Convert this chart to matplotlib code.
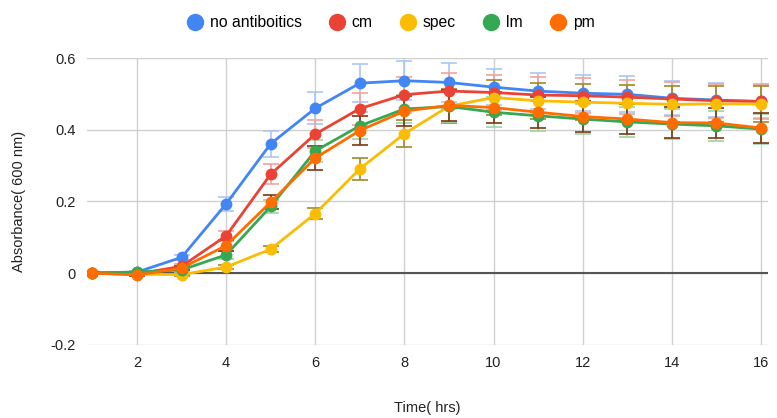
import matplotlib
matplotlib.use("Agg")
import matplotlib.pyplot as plt
from matplotlib.lines import Line2D

time_hrs = [1, 2, 3, 4, 5, 6, 7, 8, 9, 10, 11, 12, 13, 14, 15, 16]

no_antibiotics = [0.000, 0.003, 0.044, 0.193, 0.361, 0.460, 0.530, 0.537, 0.532, 0.519, 0.508, 0.502, 0.499, 0.488, 0.483, 0.479]
cm = [0.000, -0.002, 0.019, 0.104, 0.276, 0.388, 0.459, 0.498, 0.508, 0.504, 0.497, 0.495, 0.491, 0.486, 0.481, 0.479]
spec = [0.000, -0.003, -0.004, 0.017, 0.067, 0.166, 0.291, 0.389, 0.466, 0.490, 0.481, 0.477, 0.474, 0.471, 0.472, 0.472]
lm = [0.001, 0.003, 0.009, 0.051, 0.186, 0.341, 0.411, 0.458, 0.465, 0.449, 0.439, 0.430, 0.422, 0.416, 0.411, 0.402]
pm = [0.000, -0.005, 0.014, 0.077, 0.198, 0.321, 0.398, 0.452, 0.468, 0.462, 0.449, 0.437, 0.430, 0.420, 0.419, 0.405]

err_no_antibiotics = [0.002, 0.003, 0.006, 0.020, 0.036, 0.045, 0.053, 0.055, 0.055, 0.050, 0.050, 0.050, 0.050, 0.047, 0.047, 0.045]
err_cm = [0.002, 0.003, 0.006, 0.013, 0.028, 0.040, 0.045, 0.050, 0.050, 0.050, 0.049, 0.049, 0.048, 0.048, 0.048, 0.048]
err_spec = [0.002, 0.002, 0.003, 0.005, 0.008, 0.016, 0.030, 0.038, 0.047, 0.050, 0.050, 0.050, 0.050, 0.050, 0.050, 0.050]
err_lm = [0.002, 0.003, 0.005, 0.012, 0.018, 0.030, 0.038, 0.040, 0.042, 0.042, 0.042, 0.042, 0.042, 0.042, 0.042, 0.042]
err_pm = [0.002, 0.003, 0.006, 0.015, 0.020, 0.033, 0.040, 0.042, 0.044, 0.044, 0.043, 0.043, 0.043, 0.043, 0.043, 0.043]

series_names = ["no antiboitics", "cm", "spec", "lm", "pm"]
series_vals = [no_antibiotics, cm, spec, lm, pm]
series_errs = [err_no_antibiotics, err_cm, err_spec, err_lm, err_pm]
colors = ["#4285F4", "#EA4335", "#FBBC04", "#34A853", "#FF6D01"]
err_colors = ["#a9c6f8", "#f2a39c", "#a08a2a", "#9ed4a9", "#7a3a10"]

x_ticks = [2, 4, 6, 8, 10, 12, 14, 16]
y_ticks = [-0.2, 0, 0.2, 0.4, 0.6]
y_tick_labels = ["-0.2", "0", "0.2", "0.4", "0.6"]

plt.rcParams['font.family'] = ['Liberation Sans', 'DejaVu Sans']

fig = plt.figure(figsize=(7.77, 4.18), dpi=100)
ax = fig.add_axes([0.112, 0.175, 0.876, 0.686])

ax.set_xlim(0.88, 16.15)
ax.set_ylim(-0.2, 0.6)
ax.set_xticks(x_ticks)
ax.set_yticks(y_ticks)
ax.set_yticklabels(y_tick_labels)
ax.grid(True, color="#d0d0d0", linewidth=1.0)
ax.set_axisbelow(True)
for s in ax.spines.values():
    s.set_visible(False)
ax.tick_params(length=0, labelsize=10.5, colors="#222222", pad=8)
ax.axhline(0, color="#555555", linewidth=1.5, zorder=1.5)

for vals, errs, ec in zip(series_vals, series_errs, err_colors):
    ax.errorbar(time_hrs, vals, yerr=errs, fmt="none", ecolor=ec,
                elinewidth=1.2, capsize=6, capthick=1.2, zorder=2)

for name, vals, c in zip(series_names, series_vals, colors):
    ax.plot(time_hrs, vals, color=c, linewidth=2, marker="o",
            markersize=7.5, label=name, zorder=3)

ax.set_xlabel("Time( hrs)", fontsize=10.5, color="#222222", labelpad=22)
ax.set_ylabel("Absorbance( 600 nm)", fontsize=10.5, color="#222222", labelpad=18)

handles = [Line2D([], [], linestyle="none", marker="o", markersize=11.5,
                  color=c) for c in colors]
fig.legend(handles, series_names, loc="center", bbox_to_anchor=(0.502, 0.945),
           ncol=5, frameon=False, fontsize=11.3, handletextpad=0.35,
           columnspacing=1.65, handlelength=1.2)

fig.savefig("out.png", dpi=100)
